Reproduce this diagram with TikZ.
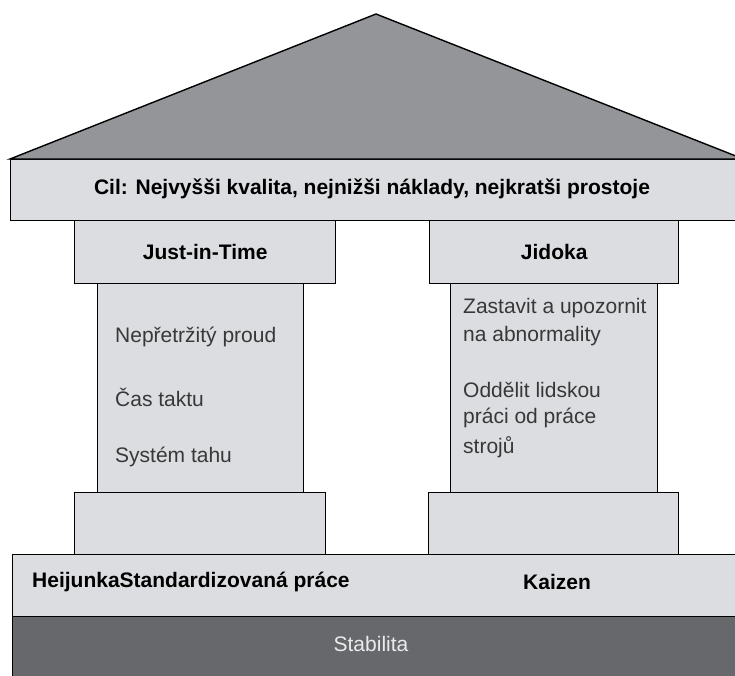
\documentclass[tikz,border=0pt]{standalone}
\usepackage{fontspec}
\setmainfont{Liberation Sans}
\usetikzlibrary{positioning}

\definecolor{roofgray}{RGB}{148,149,153}
\definecolor{boxgray}{RGB}{220,221,224}
\definecolor{stabgray}{RGB}{103,104,107}

\tikzset{
  box/.style={draw=black, line width=1.4pt, fill=boxgray, inner sep=0pt, anchor=north west, font=\bfseries\fontsize{21}{24}\selectfont},
  item/.style={anchor=west, inner sep=0pt, font=\fontsize{21}{24}\selectfont, text=black!78},
  heading/.style={inner sep=0pt, font=\bfseries\fontsize{21}{24}\selectfont},
}

\begin{document}
\begin{tikzpicture}[x=1pt, y=-1pt]
  \useasboundingbox (0,0) rectangle (735,675);
  % roof and goal
  \node[box, minimum width=732pt, minimum height=61pt] (goal) at (10,159) {};
  \node[heading] (goaltext) at (372,189) {Cil: Nejvyšši kvalita, nejnižši náklady, nejkratši prostoje};
  \coordinate (apex) at (376,14);
  \draw[line width=1.4pt, fill=roofgray, line join=miter] (goal.north west) -- (apex) -- (goal.north east) -- cycle;

  % left pillar
  \node[box, minimum width=261pt, minimum height=63pt] (jitcap) at (74,220) {Just-in-Time};
  \node[box, minimum width=206pt, minimum height=209pt] (jitshaft) at (97,283) {};
  \node[box, minimum width=251pt, minimum height=62pt] (jitbase) at (74,492) {};
  \node[item] (flow) at (115,337) {Nepřetržitý proud};
  \node[item, below=60pt of flow.west, anchor=west] (takt) {Čas taktu};
  \node[item, below=60pt of takt.west, anchor=west] (pull) {Systém tahu};

  % right pillar
  \node[box, minimum width=249pt, minimum height=63pt] (jidcap) at (429,220) {Jidoka};
  \node[box, minimum width=207pt, minimum height=209pt] (jidshaft) at (450,283) {};
  \node[box, minimum width=250pt, minimum height=62pt] (jidbase) at (428,492) {};
  \node[item] (stop) at (463,308) {Zastavit a upozornit};
  \node[item, below=28pt of stop.west, anchor=west] (abn) {na abnormality};
  \node[item, below=54pt of abn.west, anchor=west] (split) {Oddělit lidskou};
  \node[item, below=28pt of split.west, anchor=west] (work) {práci od práce};
  \node[item, below=29pt of work.west, anchor=west] (mach) {strojů};

  % foundation
  \node[box, minimum width=730pt, minimum height=62pt] (found) at (12,554) {};
  \node[box, fill=stabgray, minimum width=730pt, minimum height=64pt] (stab) at (12,616) {};
  \node[heading, font=\fontsize{21}{24}\selectfont, text=white!92!black] (stabtext) at (371,644) {Stabilita};
  \node[heading, anchor=west] (heij) at (32,582) {HeijunkaStandardizovaná práce};
  \node[heading] (kaizen) at (557,582) {Kaizen};
\end{tikzpicture}
\end{document}
